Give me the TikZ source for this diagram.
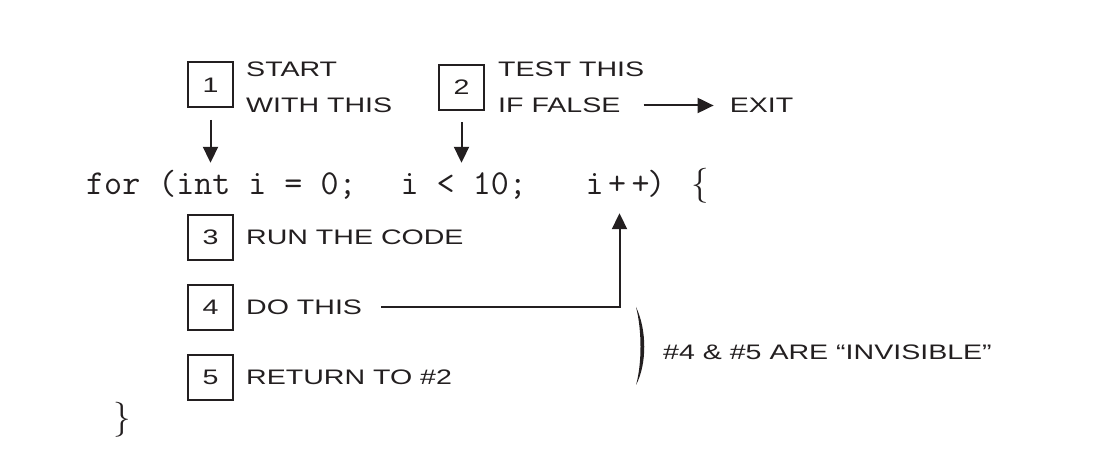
\documentclass[tikz,border=0pt]{standalone}
\usepackage{fontspec}
\newfontfamily\handfont[FakeStretch=1.36]{Liberation Sans}
\usepackage{tikz}
\usetikzlibrary{positioning, arrows.meta}
\definecolor{ink}{HTML}{231F20}
\tikzstyle{arrow} = [draw=ink, line width=2pt, -{Triangle[length=16pt,width=15pt]}]
\tikzstyle{numbox} = [draw=ink, line width=2pt, minimum size=45pt, inner sep=0pt, text=ink, font=\handfont\fontsize{21}{25}\selectfont]
\tikzstyle{lbl} = [inner sep=0pt, text=ink, font=\handfont\fontsize{21}{25}\selectfont]
\tikzstyle{code} = [inner sep=0pt, anchor=base west, text height=32pt, text depth=8pt, text=ink, font=\ttfamily\fontsize{35}{40}\selectfont]

\begin{document}
\begin{tikzpicture}[x=1pt,y=1pt]
        \useasboundingbox (0,0) rectangle (1098,450);
        % the five steps
        \node[numbox] (b1) at (210.5,365) {1};
        \node[numbox] (b2) at (461.5,362.5) {2};
        \node[numbox] (b3) at (210.5,212.5) {3};
        \node[numbox] (b4) at (210.5,142.5) {4};
        \node[numbox] (b5) at (210.5,72.5) {5};
        \node[lbl, anchor=west] (l1a) at ([xshift=12pt,yshift=15.5pt]b1.east) {START};
        \node[lbl, anchor=west] (l1b) at ([xshift=12pt,yshift=-20.5pt]b1.east) {WITH THIS};
        \node[lbl, anchor=west] (l2a) at ([xshift=13pt,yshift=18pt]b2.east) {TEST THIS};
        \node[lbl, anchor=west] (l2b) at ([xshift=13pt,yshift=-18pt]b2.east) {IF FALSE};
        \node[lbl, right=109pt of l2b] (exit) {EXIT};
        \node[lbl, right=12pt of b3] (l3) {RUN THE CODE};
        \node[lbl, right=12pt of b4] (l4) {DO THIS};
        \node[lbl, right=12pt of b5] (l5) {RETURN TO \#2};
        % the loop header
        \node[code] (init) at (86,255) {for (int i = 0;};
        \node[code] (cond) at (400.5,255) {i < 10;};
        \node[code] (incr) at (585.5,255) {i\kern4.5pt+\kern5.5pt+\kern-2.5pt)};
        \node[inner sep=0pt, anchor=base, text=ink, font=\fontsize{35}{40}\selectfont] (open) at (700,255) {\{};
        \node[inner sep=0pt, anchor=base, text=ink, font=\fontsize{35}{40}\selectfont] (close) at (122,21) {\}};
        \draw[arrow, shorten <=11.5pt] (b1) -- (b1 |- init.north);
        \draw[arrow, shorten <=11.5pt] (b2) -- (b2 |- cond.north);
        \draw[arrow, shorten <=23pt, shorten >=16pt] (l2b) -- (exit);
        \draw[arrow, shorten <=19pt, shorten >=10pt] (l4.east) -| ([xshift=-6pt]incr.south);
        % bracket round 4 and 5
        \fill[ink] (636,143) .. controls (647,120) and (647,86) .. (636,65)
          .. controls (642,86) and (642,120) .. (636,143) -- cycle;
        \node[lbl, anchor=west] (note) at (663,98) {\#4 \& \#5 ARE “INVISIBLE”};
      \end{tikzpicture}
\end{document}
